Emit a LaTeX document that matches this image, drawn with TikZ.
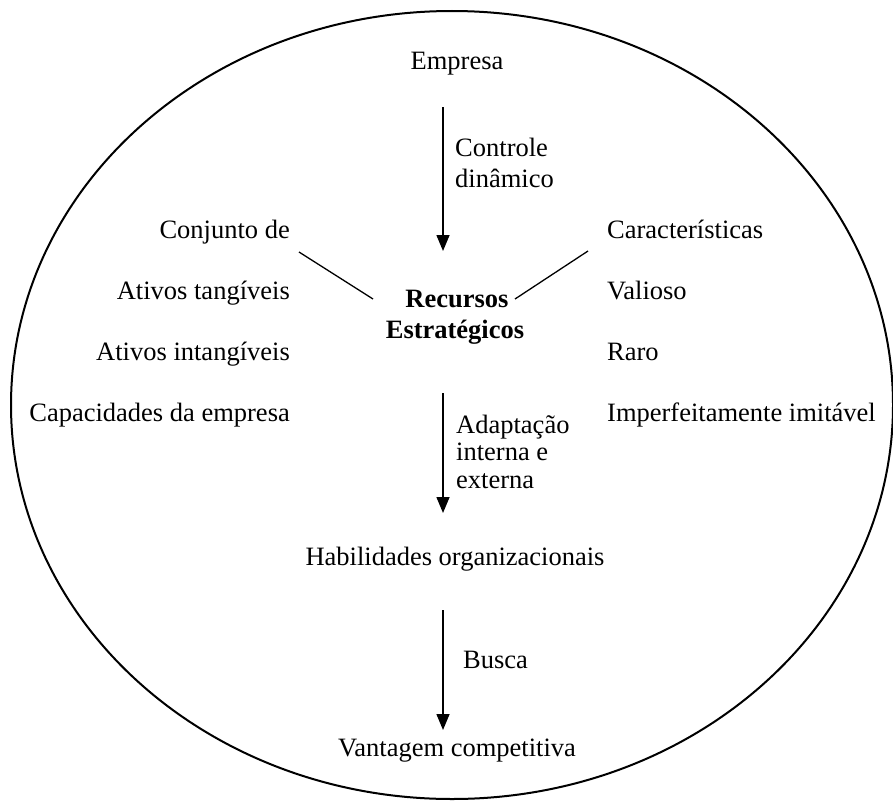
\documentclass[tikz,border=0pt]{standalone}
\usepackage{fontspec}
\setmainfont{Liberation Serif}
\usetikzlibrary{arrows.meta}
\begin{document}
\begin{tikzpicture}[x=1pt,y=-1pt,
  txt/.style={inner sep=0pt,font=\fontsize{26.5}{31}\selectfont},
  lbl/.style={txt,anchor=base west},
  lft/.style={txt,anchor=base east},
  rgt/.style={txt,anchor=base west},
  ctr/.style={txt,anchor=base},
  arr/.style={line width=1.5pt,-{Triangle[width=13pt,length=16pt]}},
  conn/.style={line width=1.3pt}]
\useasboundingbox (0,0) rectangle (893,800);
\draw[line width=2pt] (452,405) ellipse [x radius=441, y radius=394];

\node[ctr] (emp) at (457,69) {Empresa};
\node[lbl] (ctl1) at (455,156) {Controle};
\node[lbl] (ctl2) at (455,187) {dinâmico};

\node[ctr,font=\fontsize{26.5}{31}\selectfont\bfseries] (rec1) at (457,307) {Recursos};
\node[ctr,font=\fontsize{26.5}{31}\selectfont\bfseries] (rec2) at (455,338) {Estratégicos};

\node[lft] (l1) at (290,238) {Conjunto de};
\node[lft] (l2) at (290,299) {Ativos tangíveis};
\node[lft] (l3) at (290,360) {Ativos intangíveis};
\node[lft] (l4) at (290,421) {Capacidades da empresa};

\node[rgt] (r1) at (607,238) {Características};
\node[rgt] (r2) at (607,299) {Valioso};
\node[rgt] (r3) at (607,360) {Raro};
\node[rgt] (r4) at (607,421) {Imperfeitamente imitável};

\node[lbl] (ad1) at (456,433) {Adaptação};
\node[lbl] (ad2) at (456,460) {interna e};
\node[lbl] (ad3) at (456,488) {externa};

\node[ctr] (hab) at (455,565) {Habilidades organizacionais};
\node[lbl] (bus) at (463,668) {Busca};
\node[ctr] (van) at (457,756) {Vantagem competitiva};

\coordinate (a1s) at (443,107);
\coordinate (a1e) at (443,251);
\coordinate (a2s) at (443,393);
\coordinate (a2e) at (443,513);
\coordinate (a3s) at (443,610);
\coordinate (a3e) at (443,730);
\coordinate (ll1) at (299,252);
\coordinate (ll2) at (373,299);
\coordinate (rl1) at (588,251);
\coordinate (rl2) at (515,299);

\draw[arr] (a1s) -- (a1e);
\draw[arr] (a2s) -- (a2e);
\draw[arr] (a3s) -- (a3e);
\draw[conn] (ll1) -- (ll2);
\draw[conn] (rl1) -- (rl2);
\end{tikzpicture}
\end{document}
